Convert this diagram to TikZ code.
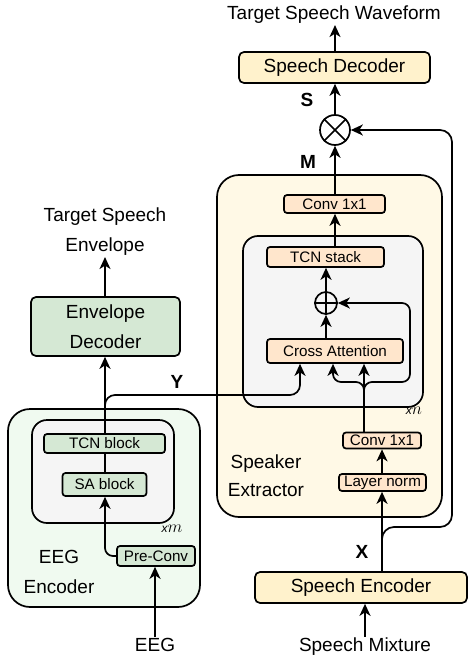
\documentclass[tikz,border=0pt]{standalone}
\usepackage{fontspec}
\setmainfont{Liberation Sans}
\usetikzlibrary{arrows.meta,calc}
\definecolor{decfill}{HTML}{FFF2CC}
\definecolor{extfill}{HTML}{FFF9E6}
\definecolor{convfill}{HTML}{FFE6CC}
\definecolor{grayfill}{HTML}{F5F5F5}
\definecolor{grnfill}{HTML}{D5E8D4}
\definecolor{eegfill}{HTML}{F0FAF0}
\newcommand\bigfnt{\fontsize{19}{30}\selectfont}
\newcommand\smlfnt{\fontsize{15.2}{17}\selectfont}
\tikzset{
  lw/.style={line width=1.7pt},
  arr/.style={line width=1.7pt,-{Stealth[length=12pt,width=11pt,inset=3.5pt]}},
  container/.style={draw,line width=1.7pt,inner sep=0pt,rounded corners=22pt},
  repbox/.style={draw,line width=1.7pt,inner sep=0pt,rounded corners=15pt,fill=grayfill},
  bigbox/.style={draw,line width=1.7pt,inner sep=0pt,rounded corners=5pt,font=\bigfnt,align=center},
  smlbox/.style={draw,line width=1.7pt,inner sep=0pt,rounded corners=3pt,font=\smlfnt},
  txt/.style={inner sep=1pt,font=\bigfnt,align=center},
  lbl/.style={inner sep=0pt,font=\bigfnt\bfseries},
  reps/.style={inner sep=0pt},
  opcircle/.style={draw,circle,line width=1.7pt,inner sep=0pt},
}
\begin{document}
\begin{tikzpicture}[x=1pt,y=-1pt]
\useasboundingbox (0,0) rectangle (471,661);
% containers
\node[container,fill=extfill,minimum width=225pt,minimum height=342pt] (spkext) at (329.5,346) {};
\node[repbox,minimum width=180pt,minimum height=171pt] (reprep) at (333,321.5) {};
\node[container,fill=eegfill,minimum width=192pt,minimum height=198pt] (eegenc) at (104,508) {};
\node[repbox,minimum width=142pt,minimum height=103pt] (eegrep) at (103,471.5) {};
% speech path nodes
\node[txt] (tgtwave) at (334,15) {Target Speech Waveform};
\node[bigbox,fill=decfill,minimum width=191pt,minimum height=31pt] (spdec) at (334.5,67.5) {Speech Decoder};
\node[opcircle,minimum size=30pt] (otimes) at (335,130) {};
\draw[lw] (otimes.north east) -- (otimes.south west) (otimes.north west) -- (otimes.south east);
\node[smlbox,fill=convfill,minimum width=101pt,minimum height=18pt] (conv1) at (334.5,204) {Conv 1x1};
\node[smlbox,fill=convfill,minimum width=117pt,minimum height=20pt] (tcnstack) at (325.5,257) {TCN stack};
\node[opcircle,minimum size=22pt] (oplus) at (326,303) {};
\draw[lw] (oplus.north) -- (oplus.south) (oplus.west) -- (oplus.east);
\node[smlbox,fill=convfill,minimum width=136pt,minimum height=24pt] (crossatt) at (335,351) {Cross Attention};
\node[smlbox,fill=convfill,minimum width=78pt,minimum height=16pt] (conv2) at (382,440.5) {Conv 1x1};
\node[smlbox,fill=convfill,minimum width=87pt,minimum height=17pt] (layernorm) at (382.5,482.5) {Layer norm};
\node[bigbox,fill=decfill,minimum width=212pt,minimum height=31pt] (spenc) at (361,587.5) {Speech Encoder};
\node[txt] (spmix) at (365,647) {Speech Mixture};
\node[txt,font=\fontsize{19}{28}\selectfont] (spklbl) at (266,476) {Speaker\\Extractor};
\node[reps,anchor=base] (xn) at (414,414) {{\fontsize{12}{12}\selectfont\itshape x}{\fontsize{17}{17}\selectfont$n$}};
% EEG path nodes
\node[txt] (tgtenv) at (105,232) {Target Speech\\Envelope};
\node[bigbox,fill=grnfill,minimum width=149pt,minimum height=59pt] (envdec) at (105.5,326.5) {Envelope\\Decoder};
\node[smlbox,fill=grnfill,minimum width=121pt,minimum height=19pt] (tcnblock) at (104.5,443.5) {TCN block};
\node[smlbox,fill=grnfill,minimum width=84pt,minimum height=23pt] (sablock) at (104.5,484.5) {SA block};
\node[smlbox,fill=grnfill,minimum width=78pt,minimum height=20pt] (preconv) at (156,556) {Pre-Conv};
\node[txt] (eegin) at (155,645) {EEG};
\node[txt] (eeglbl) at (59,572) {EEG\\Encoder};
\node[reps,anchor=base] (xm) at (172,532) {{\fontsize{12}{12}\selectfont\itshape x}{\fontsize{17}{17}\selectfont$m$}};
% labels
\node[lbl] (slbl) at (307,100) {S};
\node[lbl] (mlbl) at (308,162) {M};
\node[lbl] (xlbl) at (362,552) {X};
\node[lbl] (ylbl) at (177,382) {Y};
% coordinates
\coordinate (split) at (364,382);
\coordinate (ycorner) at (300,395);
\coordinate (rescorner) at (410,303);
\coordinate (brstart) at (382,560);
\coordinate (brlow) at (382,527);
\coordinate (brtop) at (452,130);
% connectors: speech path
\draw[arr] (spdec.north -| otimes.north) -- (tgtwave.south -| otimes.north);
\draw[arr] (otimes.north) -- (spdec.south -| otimes.north);
\draw[arr] (conv1.north -| otimes.south) -- (otimes.south);
\draw[arr] (tcnstack.north -| otimes.south) -- (conv1.south -| otimes.south);
\draw[arr] (oplus.north) -- (tcnstack.south -| oplus.north);
\draw[arr] (crossatt.north -| oplus.south) -- (oplus.south);
\draw[arr] (conv2.north -| split) -- (crossatt.south -| split);
\draw[arr,rounded corners=8pt] (conv2.north -| split) -- (split) -| (crossatt.south -| 333,0);
\draw[arr,rounded corners=8pt] (conv2.north -| split) -- (split) -| (rescorner) -- (oplus.east);
\draw[arr] (layernorm.north -| brstart) -- (conv2.south -| brstart);
\draw[arr] (spenc.north -| brstart) -- (layernorm.south -| brstart);
\draw[arr,rounded corners=12pt] (brstart) -- (brlow) -| (brtop) -- (otimes.east);
\draw[arr] (spmix.north) -- (spenc.south -| spmix.north);
% connectors: EEG path
\draw[arr] (envdec.north -| 105,0) -- (tgtenv.south -| 105,0);
\draw[arr] (tcnblock.north -| 105,0) -- (envdec.south -| 105,0);
\draw[arr,rounded corners=10pt] (tcnblock.north -| 105,0) |- (ycorner) -- (crossatt.south -| ycorner);
\draw[lw] (sablock.north -| 105,0) -- (tcnblock.south -| 105,0);
\draw[arr,rounded corners=8pt] (preconv.west) -| (sablock.south -| 105,0);
\draw[arr] (eegin.north) -- (preconv.south -| eegin.north);
\end{tikzpicture}
\end{document}
